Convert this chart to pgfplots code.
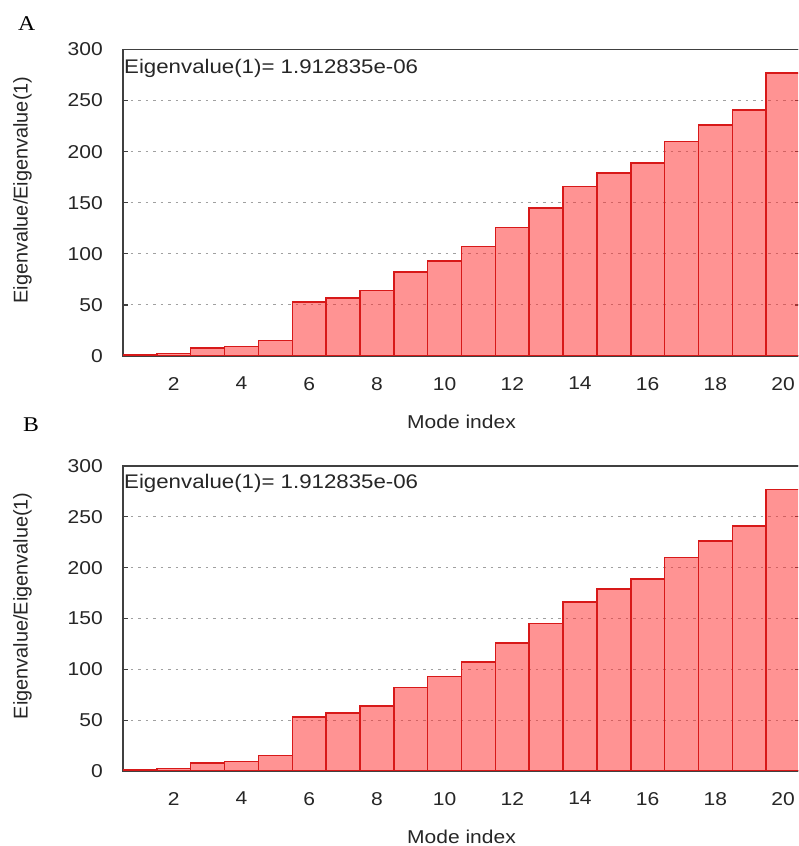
\documentclass[border=0pt]{standalone}
\usepackage{fontspec}
\setmainfont{Liberation Sans}[FakeStretch=1.13]
\newfontfamily\plainsans{Liberation Sans}
\newfontfamily\panelfont{Liberation Serif}[FakeStretch=1.13]
\usepackage{pgfplots}
\usepackage{pgfplotstable}
\pgfplotsset{compat=1.18}

\definecolor{barfill}{RGB}{255,40,40}
\definecolor{baredge}{RGB}{215,25,25}
\definecolor{gridgray}{RGB}{160,160,160}
\definecolor{framegray}{RGB}{64,64,64}

% ratio eigenvalue(k)/eigenvalue(1)
\pgfplotstableread{
mode ratio
1 1
2 2.6
3 7.8
4 9.4
5 15
6 53
7 57
8 64
9 82
10 93
11 107
12 126
13 145
14 166
15 179
16 189
17 210
18 226
19 241
20 277
}\eigtable

\newcommand{\lblfont}{\fontsize{18.6}{20}\selectfont}
\newcommand{\notefont}{\fontsize{19.7}{21}\selectfont}

\pgfplotsset{eigstyle/.style={
  scale only axis, width=677pt,
  xmin=0.5, xmax=20.5, ymin=0, ymax=300,
  xtick={2,4,...,20}, ytick={0,50,...,300},
  /pgf/number format/assume math mode=true,
  ymajorgrids,
  major grid style={gridgray, line width=1pt, dash pattern=on 2.5pt off 5pt},
  tick align=inside, major tick length=5pt,
  x tick style={draw=none},
  y tick style={framegray, line width=1.2pt},
  axis line style={framegray, line width=1.6pt},
  tick label style={font=\lblfont, text=black!85},
  xticklabel style={anchor=north, inner sep=0pt, yshift=-21pt},
  yticklabel style={anchor=east, inner sep=0pt, xshift=-20pt},
  xlabel={Mode index},
  ylabel={Eigenvalue/Eigenvalue(1)},
  xlabel style={font=\lblfont, text=black!85,
    at={(axis description cs:0.5,0)}, anchor=north, inner sep=0pt, yshift=-59pt},
  ylabel style={font=\plainsans\fontsize{19.9}{21}\selectfont, text=black!85,
    at={(axis description cs:-0.1344,0.5416)}, anchor=south, inner sep=0pt},
}}

\begin{document}
\begin{tikzpicture}
\useasboundingbox (0,0) rectangle (798pt,846pt);
\clip (0,0) rectangle (798pt,846pt);

\node[anchor=base west, inner sep=0pt, font=\panelfont\fontsize{21}{22}\selectfont] at (18pt,815pt) {A};
\node[anchor=base west, inner sep=0pt, font=\panelfont\fontsize{21}{22}\selectfont] at (23pt,414pt) {B};

\begin{axis}[eigstyle, at={(123pt,490pt)}, anchor=south west, height=306.5pt]
\addplot[ybar, bar width=1, bar shift=0pt, fill=barfill, fill opacity=0.5,
  draw=baredge, line width=1.5pt] table[x=mode, y=ratio] {\eigtable};
\node[anchor=base west, inner sep=0pt, font=\notefont, text=black!85]
  at (rel axis cs:0,1) [xshift=1pt, yshift=-24.5pt] {Eigenvalue(1)= 1.912835e-06};
\end{axis}

\begin{axis}[eigstyle, at={(123pt,75pt)}, anchor=south west, height=305pt]
\addplot[ybar, bar width=1, bar shift=0pt, fill=barfill, fill opacity=0.5,
  draw=baredge, line width=1.5pt] table[x=mode, y=ratio] {\eigtable};
\node[anchor=base west, inner sep=0pt, font=\notefont, text=black!85]
  at (rel axis cs:0,1) [xshift=1pt, yshift=-23pt] {Eigenvalue(1)= 1.912835e-06};
\end{axis}
\end{tikzpicture}
\end{document}
